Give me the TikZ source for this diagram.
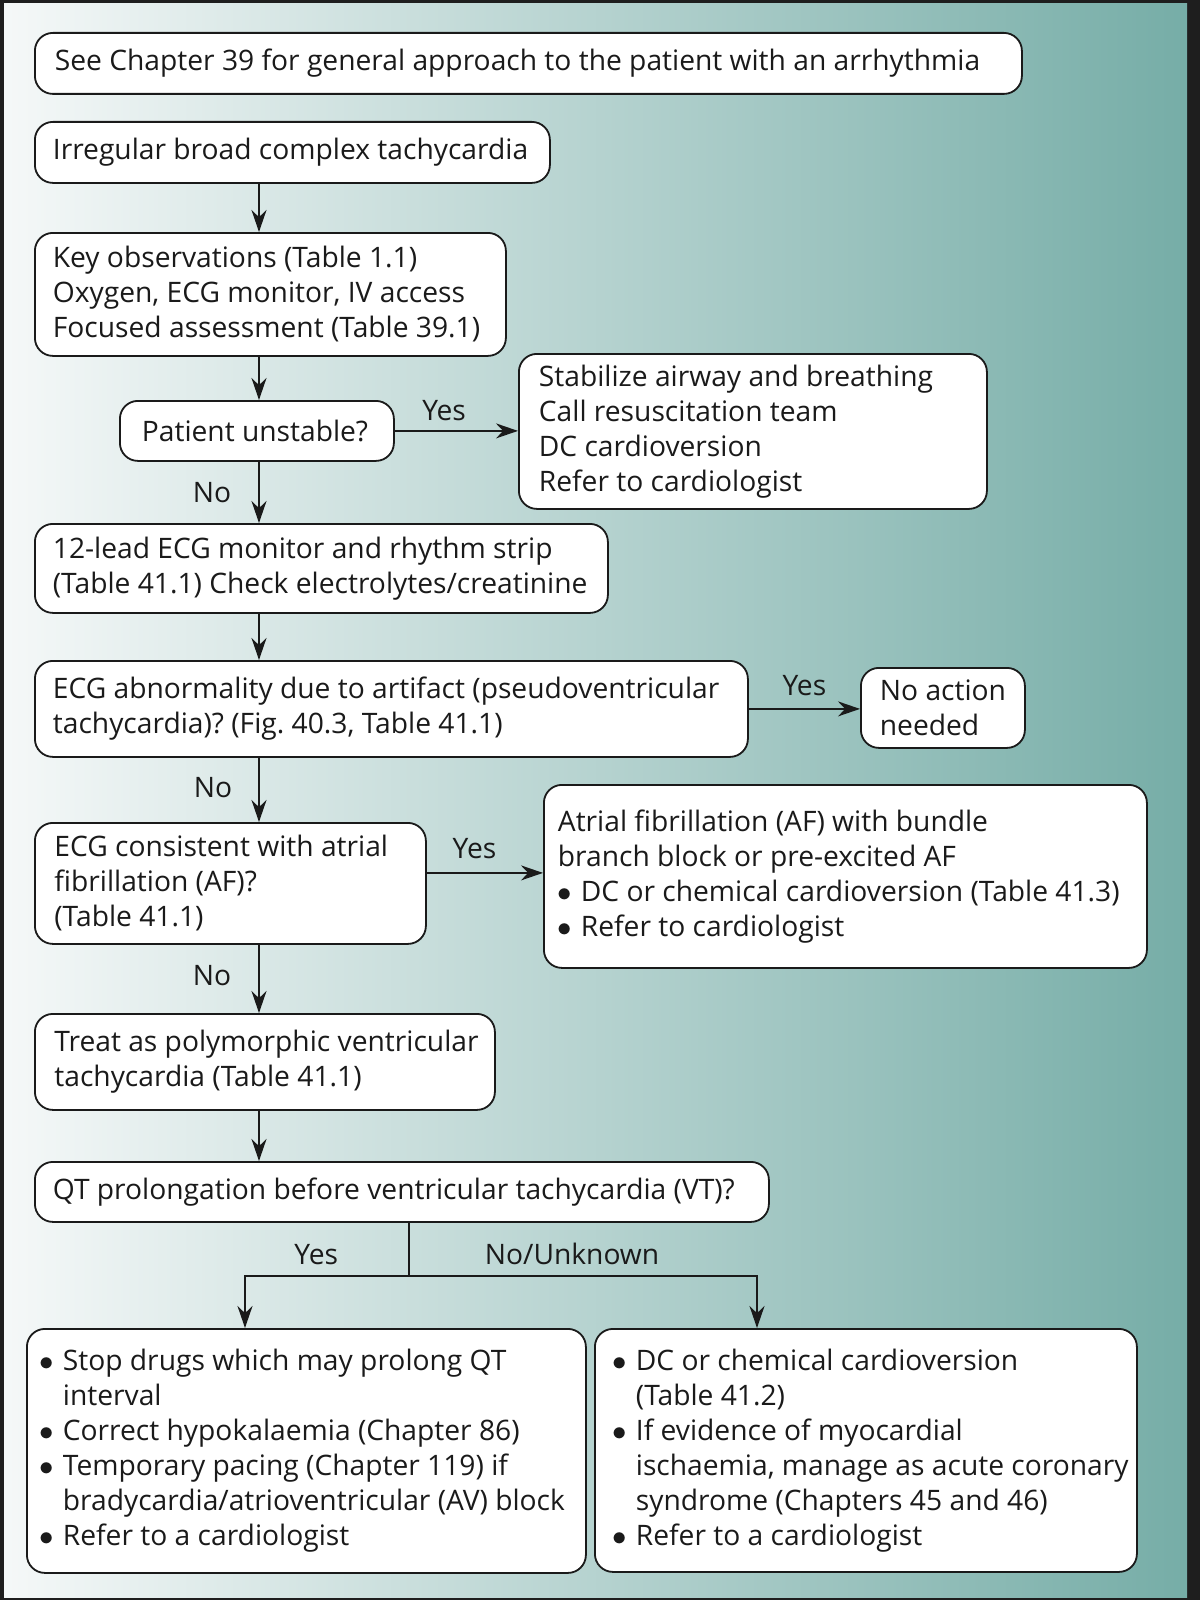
\documentclass[tikz,border=0pt]{standalone}
\usepackage{fontspec}
\setmainfont{Open Sans}
\usepackage{tikz}
\usetikzlibrary{arrows.meta}
\definecolor{frameDark}{HTML}{1E1E1E}
\definecolor{inkDark}{HTML}{1A1A1A}
\definecolor{tealLeft}{HTML}{F5F8F8}
\definecolor{tealMid}{HTML}{BCD5D2}
\definecolor{tealRight}{HTML}{76ADA7}
% one unbreakable line with plain word spaces, with or without a bullet
\newcommand{\row}[1]{\mbox{\spaceskip=0pt\xspaceskip=0pt\frenchspacing #1}}
\newcommand{\bul}[1]{\row{\makebox[11.5pt][l]{$\bullet$}#1}}
\newcommand{\cont}[1]{\row{\hspace*{11.5pt}#1}}

\begin{document}
\begin{tikzpicture}[x=0.5pt,y=-0.5pt,>={Stealth[length=11pt,width=7.5pt]},line width=0.9pt,color=inkDark]
  \tikzstyle{flowBox}=[draw=inkDark,fill=white,rounded corners=9pt,align=left,anchor=north west,inner sep=0pt,font=\fontsize{14.1pt}{17.5pt}\selectfont]
  \tikzstyle{branchLabel}=[inner sep=0pt,font=\fontsize{14.1pt}{17.5pt}\selectfont]
  \useasboundingbox (0,0) rectangle (1200,1600);
  % frame and background
  \fill[frameDark] (0,0) rectangle (1200,1600);
  \shade[left color=tealLeft,middle color=tealMid,right color=tealRight] (4,4) rectangle (1187,1597);
  % boxes
  \node[flowBox,minimum width=493.5pt,text width=473.5pt,minimum height=30.5pt] (chapter) at (34,32) {\row{See Chapter 39 for general approach to the patient with an arrhythmia}};
  \node[flowBox,minimum width=257.5pt,text width=239.5pt,minimum height=30.5pt] (irregular) at (34,121) {\row{Irregular broad complex tachycardia}};
  \node[flowBox,minimum width=235.5pt,text width=217.5pt,minimum height=61.5pt] (keyObs) at (34,232) {\row{Key observations (Table 1.1)}\\\row{Oxygen, ECG monitor, IV access}\\\row{Focused assessment (Table 39.1)}};
  \node[flowBox,minimum width=137pt,text width=115pt,minimum height=30pt] (unstable) at (119,400) {\row{Patient unstable?}};
  \node[flowBox,minimum width=234pt,text width=214pt,minimum height=77.5pt] (stabilize) at (518,353) {\row{Stabilize airway and breathing}\\\row{Call resuscitation team}\\\row{DC cardioversion}\\\row{Refer to cardiologist}};
  \node[flowBox,minimum width=286.5pt,text width=268.5pt,minimum height=44.5pt] (twelveLead) at (34,523) {\row{12-lead ECG monitor and rhythm strip}\\\row{(Table 41.1) Check electrolytes/creatinine}};
  \node[flowBox,minimum width=356.5pt,text width=338.5pt,minimum height=48pt] (artifact) at (34,660) {\row{ECG abnormality due to artifact (pseudoventricular}\\\row{tachycardia)? (Fig. 40.3, Table 41.1)}};
  \node[flowBox,minimum width=82pt,text width=63pt,minimum height=40pt] (noAction) at (860,667) {\row{No action}\\\row{needed}};
  \node[flowBox,minimum width=195.5pt,text width=176pt,minimum height=60.5pt] (afCheck) at (34,822) {\row{ECG consistent with atrial}\\\row{fibrillation (AF)?}\\\row{(Table 41.1)}};
  \node[flowBox,minimum width=301.5pt,text width=287.5pt,minimum height=91.5pt] (afManage) at (543,784) {\row{Atrial fibrillation (AF) with bundle}\\\row{branch block or pre-excited AF}\\\bul{DC or chemical cardioversion (Table 41.3)}\\\bul{Refer to cardiologist}};
  \node[flowBox,minimum width=230pt,text width=210.5pt,minimum height=48pt] (polyVT) at (34,1013) {\row{Treat as polymorphic ventricular}\\\row{tachycardia (Table 41.1)}};
  \node[flowBox,minimum width=367pt,text width=349pt,minimum height=30pt] (qtCheck) at (34,1161) {\row{QT prolongation before ventricular tachycardia (VT)?}};
  \node[flowBox,minimum width=279.5pt,text width=266.5pt,minimum height=122pt] (qtLong) at (26,1328) {\bul{Stop drugs which may prolong QT}\\\cont{interval}\\\bul{Correct hypokalaemia (Chapter 86)}\\\bul{Temporary pacing (Chapter 119) if}\\\cont{bradycardia/atrioventricular (AV) block}\\\bul{Refer to a cardiologist}};
  \node[flowBox,minimum width=271pt,text width=253pt,minimum height=121.5pt] (qtOther) at (594,1328) {\bul{DC or chemical cardioversion}\\\cont{(Table 41.2)}\\\bul{If evidence of myocardial}\\\cont{ischaemia, manage as acute coronary}\\\cont{syndrome (Chapters 45 and 46)}\\\bul{Refer to a cardiologist}};
  % connectors
  \coordinate (spine) at (259,0);
  \draw[->] (irregular.south -| spine) -- (keyObs.north -| spine);
  \draw[->] (keyObs.south -| spine) -- (unstable.north -| spine);
  \draw[->] (unstable.east) -- node[branchLabel,pos=0.4,anchor=base,yshift=5pt] (yesStable) {Yes} (unstable.east -| stabilize.west);
  \draw[->] (unstable.south -| spine) -- node[branchLabel,pos=0.67,anchor=base east,xshift=-13.5pt] (noStable) {No} (twelveLead.north -| spine);
  \draw[->] (twelveLead.south -| spine) -- (artifact.north -| spine);
  \draw[->] (artifact.east) -- node[branchLabel,pos=0.5,anchor=base,yshift=6.5pt] (yesArtifact) {Yes} (artifact.east -| noAction.west);
  \draw[->] (artifact.south -| spine) -- node[branchLabel,pos=0.62,anchor=base east,xshift=-13pt] (noArtifact) {No} (afCheck.north -| spine);
  \draw[->] ([yshift=5.25pt]afCheck.east) -- node[branchLabel,pos=0.41,anchor=base,yshift=7pt] (yesAF) {Yes} ([yshift=5.25pt]afCheck.east -| afManage.west);
  \draw[->] (afCheck.south -| spine) -- node[branchLabel,pos=0.6,anchor=base east,xshift=-13.5pt] (noAF) {No} (polyVT.north -| spine);
  \draw[->] (polyVT.south -| spine) -- (qtCheck.north -| spine);
  \coordinate (split) at (409,1276);
  \coordinate (leftDrop) at (245,1276);
  \coordinate (rightDrop) at (757,1276);
  \draw (qtCheck.south -| split) -- (split);
  \draw[->] (split) -- (leftDrop) -- (leftDrop |- qtLong.north);
  \draw[->] (split) -- (rightDrop) -- (rightDrop |- qtOther.north);
  \node[branchLabel,anchor=base east] (yesQT) at ([xshift=-35pt,yshift=6pt]split) {Yes};
  \node[branchLabel,anchor=base west] (noQT) at ([xshift=37.5pt,yshift=6pt]split) {No/Unknown};
\end{tikzpicture}
\end{document}
